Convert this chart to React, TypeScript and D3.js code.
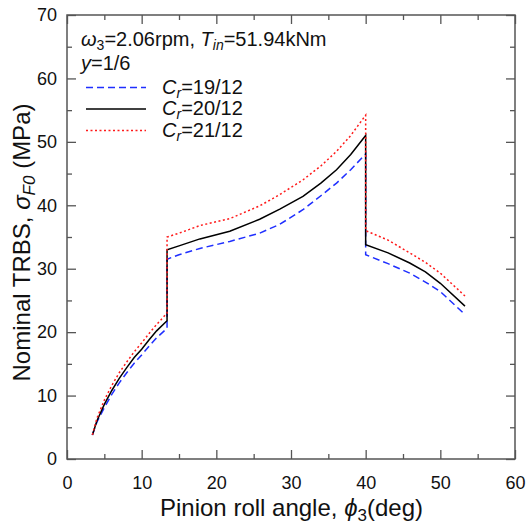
import React, { useEffect, useRef } from 'react';
import * as d3 from 'd3';

// pinion roll angle (deg) vs nominal TRBS (MPa), one array per contact ratio
const crLabels = ['19/12', '20/12', '21/12'];

const cr19: [number, number][] = [
  [3.4, 3.8], [4, 5.8], [5, 8.1], [6, 10.2], [7, 12], [8, 13.6], [9, 15.1], [10, 16.4],
  [11, 17.8], [12, 19.1], [13.4, 20.6],
  [13.4, 31.5], [15, 32.2], [17.8, 33.2], [21.8, 34.3], [25.8, 35.6], [28.5, 37.0],
  [31.6, 39.3], [34, 41.5], [36.1, 43.5], [38, 45.6], [40, 48.1],
  [40, 32.2], [43, 30.8], [45.9, 29.3], [48, 27.9], [50, 26.4], [53.1, 23.0],
];

const cr20: [number, number][] = [
  [3.4, 3.8], [4, 6], [5, 8.6], [6, 10.8], [7, 12.7], [8, 14.4], [9, 16], [10, 17.3],
  [11, 18.8], [12, 20.2], [13.4, 21.8],
  [13.4, 33.0], [15, 33.6], [17.8, 34.7], [21.8, 35.9], [25.8, 37.8], [28.5, 39.4],
  [31.6, 41.4], [34, 43.5], [36.1, 45.6], [38, 48], [40, 51.0],
  [40, 33.8], [43, 32.5], [45.9, 30.9], [48, 29.5], [50, 27.7], [53.3, 24.1],
];

const cr21: [number, number][] = [
  [3.4, 3.8], [4, 6.4], [5, 9.3], [6, 11.6], [7, 13.6], [8, 15.3], [9, 16.9], [10, 18.3],
  [11, 19.8], [12, 21.2], [13.4, 23.0],
  [13.4, 35.0], [15, 35.6], [17.8, 36.8], [21.8, 37.9], [25.8, 39.9], [28.5, 41.7],
  [31.6, 44.0], [34, 46.2], [36.1, 48.5], [38, 51], [40, 54.2],
  [40, 36.0], [43, 34.5], [45.9, 32.5], [48, 31.0], [50, 29.3], [53.3, 25.7],
];

const xTicks = [0, 10, 20, 30, 40, 50, 60];
const yTicks = [0, 10, 20, 30, 40, 50, 60, 70];

const App = () => {
  const svgRef = useRef<SVGSVGElement>(null);

  useEffect(() => {
    const width = 526;
    const height = 527;
    const marginTop = 15;
    const marginRight = 11;
    const marginBottom = 68;
    const marginLeft = 67;
    const font = "'Liberation Sans', Arial, sans-serif";
    const axisColor = '#555';

    const svg = d3.select(svgRef.current);
    svg.selectAll('*').remove();
    svg.attr('width', width).attr('height', height).style('font-family', font);

    const x = d3.scaleLinear().domain([0, 60]).range([marginLeft, width - marginRight]);
    const y = d3.scaleLinear().domain([0, 70]).range([height - marginBottom, marginTop]);

    const minorX = d3.range(5, 60, 10);
    const minorY = d3.range(5, 70, 10);

    // ticks point inwards on all four sides, labels only bottom/left
    const addAxis = (axis: any, transform: string, showLabels: boolean) => {
      const g = svg.append('g').attr('transform', transform).call(axis);
      g.select('.domain').remove();
      g.selectAll('line').attr('stroke', axisColor).attr('stroke-width', 1.3);
      if (!showLabels) g.selectAll('text').remove();
      else g.selectAll('text').attr('fill', '#111').style('font-size', '18px').style('font-family', font);
      return g;
    };

    const bottomY = height - marginBottom;
    addAxis(d3.axisBottom(x).tickValues(xTicks).tickSizeInner(-9).tickSizeOuter(0).tickPadding(17), `translate(0,${bottomY})`, true);
    addAxis(d3.axisBottom(x).tickValues(minorX).tickSizeInner(-5).tickSizeOuter(0), `translate(0,${bottomY})`, false);
    addAxis(d3.axisTop(x).tickValues(xTicks).tickSizeInner(-9).tickSizeOuter(0), `translate(0,${marginTop})`, false);
    addAxis(d3.axisTop(x).tickValues(minorX).tickSizeInner(-5).tickSizeOuter(0), `translate(0,${marginTop})`, false);
    addAxis(d3.axisLeft(y).tickValues(yTicks).tickSizeInner(-9).tickSizeOuter(0).tickPadding(10), `translate(${marginLeft},0)`, true);
    addAxis(d3.axisLeft(y).tickValues(minorY).tickSizeInner(-5).tickSizeOuter(0), `translate(${marginLeft},0)`, false);
    addAxis(d3.axisRight(y).tickValues(yTicks).tickSizeInner(-9).tickSizeOuter(0), `translate(${width - marginRight},0)`, false);
    addAxis(d3.axisRight(y).tickValues(minorY).tickSizeInner(-5).tickSizeOuter(0), `translate(${width - marginRight},0)`, false);

    // frame
    svg.append('rect')
      .attr('x', marginLeft)
      .attr('y', marginTop)
      .attr('width', width - marginLeft - marginRight)
      .attr('height', height - marginTop - marginBottom)
      .attr('fill', 'none')
      .attr('stroke', axisColor)
      .attr('stroke-width', 1.5);

    // curves
    const line = d3.line<[number, number]>().x(d => x(d[0])).y(d => y(d[1]));
    const series = [
      { data: cr19, color: '#1f2fff', dash: '7,4', label: crLabels[0] },
      { data: cr20, color: '#000', dash: null, label: crLabels[1] },
      { data: cr21, color: '#ff1a1a', dash: '2,2.5', label: crLabels[2] },
    ];

    series.forEach(s => {
      svg.append('path')
        .datum(s.data)
        .attr('d', line)
        .attr('fill', 'none')
        .attr('stroke', s.color)
        .attr('stroke-width', 1.5)
        .attr('stroke-dasharray', s.dash);
    });

    // annotation
    const ann = svg.append('text').attr('x', 81).attr('y', 46).style('font-size', '20px').attr('fill', '#111');
    ann.append('tspan').style('font-style', 'italic').text('ω');
    ann.append('tspan').attr('dy', 4).style('font-size', '14px').text('3');
    ann.append('tspan').attr('dy', -4).text('=2.06rpm, ');
    ann.append('tspan').style('font-style', 'italic').text('T');
    ann.append('tspan').attr('dy', 4).style('font-size', '14px').style('font-style', 'italic').text('in');
    ann.append('tspan').attr('dy', -4).text('=51.94kNm');

    const ann2 = svg.append('text').attr('x', 81).attr('y', 70).style('font-size', '20px').attr('fill', '#111');
    ann2.append('tspan').style('font-style', 'italic').text('y');
    ann2.append('tspan').text('=1/6');

    // legend
    series.forEach((s, i) => {
      const ly = 87.5 + i * 21.5;
      svg.append('line')
        .attr('x1', 86).attr('x2', 146)
        .attr('y1', ly).attr('y2', ly)
        .attr('stroke', s.color)
        .attr('stroke-width', 1.5)
        .attr('stroke-dasharray', s.dash);
      const t = svg.append('text').attr('x', 162).attr('y', ly + 6).style('font-size', '20px').attr('fill', '#111');
      t.append('tspan').style('font-style', 'italic').text('C');
      t.append('tspan').attr('dy', 4).style('font-size', '14px').style('font-style', 'italic').text('r');
      t.append('tspan').attr('dy', -4).text('=' + s.label);
    });

    // x title
    const xt = svg.append('text')
      .attr('x', 291.5)
      .attr('y', 516)
      .attr('text-anchor', 'middle')
      .style('font-size', '24px')
      .attr('fill', '#111');
    xt.append('tspan').text('Pinion roll angle, ');
    xt.append('tspan').style('font-style', 'italic').text('ϕ');
    xt.append('tspan').attr('dy', 5).style('font-size', '17px').text('3');
    xt.append('tspan').attr('dy', -5).text('(deg)');

    // y title
    const yt = svg.append('text')
      .attr('transform', `translate(30,242.5) rotate(-90)`)
      .attr('text-anchor', 'middle')
      .style('font-size', '24px')
      .attr('fill', '#111');
    yt.append('tspan').text('Nominal TRBS, ');
    yt.append('tspan').style('font-style', 'italic').text('σ');
    yt.append('tspan').attr('dy', 5).style('font-size', '17px').style('font-style', 'italic').text('F0');
    yt.append('tspan').attr('dy', -5).text(' (MPa)');
  }, []);

  return <svg ref={svgRef} style={{ position: 'absolute', left: 0, top: 0 }}></svg>;
};

export default App;
